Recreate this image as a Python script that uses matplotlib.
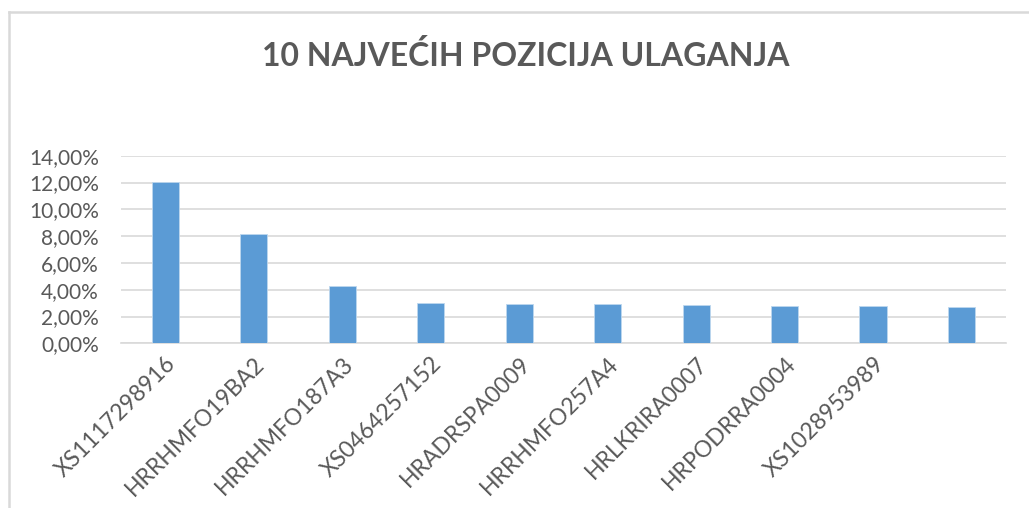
import matplotlib
matplotlib.use('Agg')
import matplotlib.pyplot as plt
from matplotlib.ticker import FuncFormatter, MultipleLocator
from matplotlib.lines import Line2D

# top 10 holdings, share of portfolio (%)
labels = ['XS1117298916', 'HRRHMFO19BA2', 'HRRHMFO187A3', 'XS0464257152',
          'HRADRSPA0009', 'HRRHMFO257A4', 'HRLKRIRA0007', 'HRPODRRA0004',
          'XS1028953989', '']
values = [12.05, 8.17, 4.26, 3.03, 2.95, 2.93, 2.86, 2.79, 2.76, 2.69]

title = '10 NAJVEĆIH POZICIJA ULAGANJA'
grey = '#595959'

plt.rcParams['font.family'] = ['Lato', 'DejaVu Sans']

fig = plt.figure(figsize=(10.29, 5.08), dpi=100)
ax = fig.add_axes([0.1176, 0.3242, 0.86, 0.3693])

x = range(len(values))
ax.bar(x, values, width=0.31, color='#5b9bd5', edgecolor='#bdd7ee', linewidth=0.6, zorder=3)

ax.set_xlim(-0.5, len(values) - 0.5)
ax.set_ylim(0, 14)
ax.yaxis.set_major_locator(MultipleLocator(2))
ax.yaxis.set_major_formatter(FuncFormatter(lambda v, p: ('%.2f%%' % v).replace('.', ',')))
ax.grid(axis='y', color='#d9d9d9', linewidth=1.2, zorder=0)
ax.set_axisbelow(True)
for s in ['top', 'right', 'left']:
    ax.spines[s].set_visible(False)
ax.spines['bottom'].set_color('#d9d9d9')
ax.spines['bottom'].set_linewidth(1.2)

ax.set_xticks(list(x))
ax.set_xticklabels(labels, rotation=45, ha='right', rotation_mode='anchor',
                   fontsize=16.5, color=grey)
ax.tick_params(axis='x', length=0, pad=7)
ax.tick_params(axis='y', length=0, pad=16, labelsize=15, labelcolor=grey)

fig.text(0.511, 0.89, title, ha='center', va='center', fontsize=23,
         fontweight='bold', color=grey)

# chart frame (only left and top edges are visible in the crop)
fig.add_artist(Line2D([8.5 / 1029, 8.5 / 1029], [0, 1 - 11.5 / 508],
                      transform=fig.transFigure, color='#d9d9d9', linewidth=1.8))
fig.add_artist(Line2D([8.5 / 1029, 1], [1 - 11.5 / 508, 1 - 11.5 / 508],
                      transform=fig.transFigure, color='#d9d9d9', linewidth=1.8))

fig.savefig('out.png', dpi=100)
